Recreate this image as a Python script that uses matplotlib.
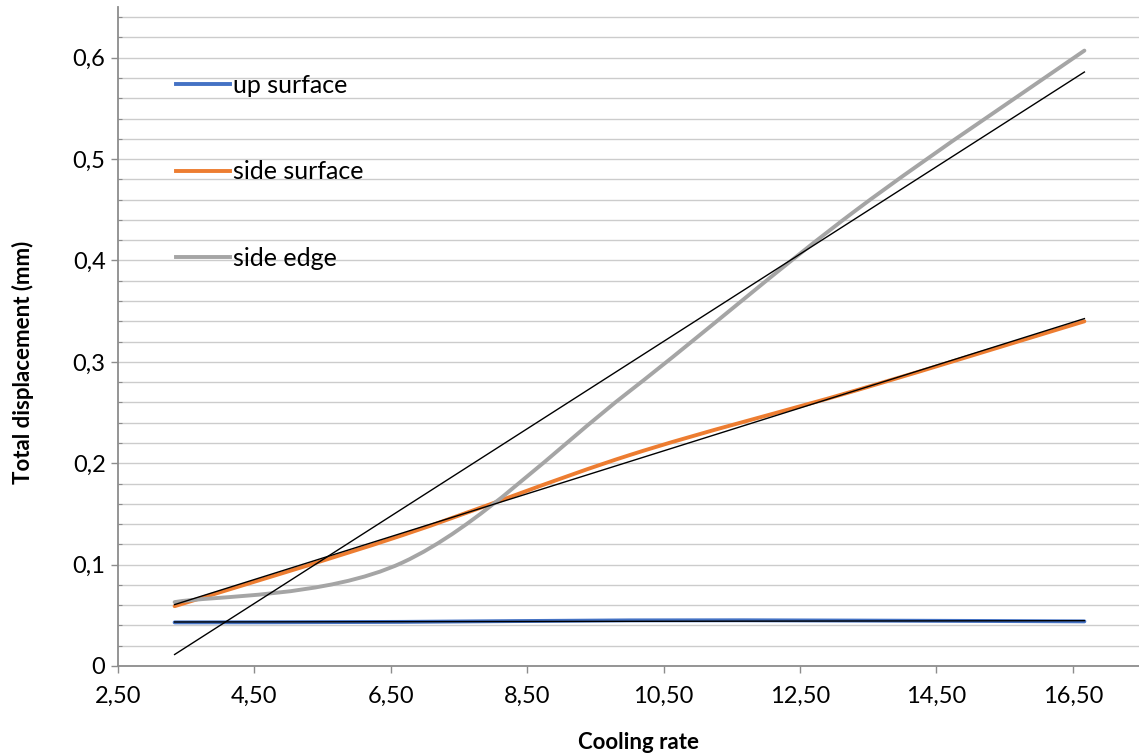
#!/usr/bin/env python
# coding=utf-8

import numpy as np
import matplotlib
matplotlib.use("Agg")
import matplotlib.pyplot as plt

from matplotlib.path import Path
from matplotlib.patches import PathPatch
from matplotlib.lines import Line2D
from matplotlib.ticker import MultipleLocator, FuncFormatter

default_font = "Lato"
default_dpi = 100

# data
cooling_rate = [3.33, 6.67, 10.00, 13.33, 16.67]
up_surface = [0.043, 0.0435, 0.045, 0.0448, 0.044]
side_surface = [0.059, 0.129, 0.208, 0.272, 0.340]
side_edge = [0.063, 0.102, 0.271, 0.450, 0.607]

series_names = ["up surface", "side surface", "side edge"]
series_colors = ["#4472C4", "#ED7D31", "#A5A5A5"]

x_ticks = [2.5, 4.5, 6.5, 8.5, 10.5, 12.5, 14.5, 16.5]


def smooth_path(x, y):
    """
    Excel-like smoothed line: cubic bezier through the points
    """
    pts = np.column_stack([x, y]).astype(float)
    n = len(pts)
    verts = [pts[0]]
    codes = [Path.MOVETO]
    for i in range(n - 1):
        p0 = pts[max(i - 1, 0)]
        p1 = pts[i]
        p2 = pts[i + 1]
        p3 = pts[min(i + 2, n - 1)]
        verts += [p1 + (p2 - p0) / 6, p2 - (p3 - p1) / 6, p2]
        codes += [Path.CURVE4] * 3
    return Path(verts, codes)


def comma(v, pos, digits):
    if digits == 1 and abs(v) < 1e-9:
        return "0"
    return f"{v:.{digits}f}".replace(".", ",")


plt.rcParams["font.family"] = [default_font, "DejaVu Sans"]

fig = plt.figure(figsize=(11.39, 7.56), dpi=default_dpi)
ax = fig.add_axes([118 / 1139, 90 / 756, 1021 / 1139, 659 / 756])

series = [up_surface, side_surface, side_edge]
handles = []
for vals, name, color in zip(series, series_names, series_colors):
    ax.add_patch(PathPatch(smooth_path(cooling_rate, vals),
                           facecolor="none",
                           edgecolor=color,
                           lw=2.8,
                           capstyle="round",
                           zorder=3))
    handles.append(Line2D([], [], color=color, lw=2.8))

# linear trend lines
xs = np.array([cooling_rate[0], cooling_rate[-1]])
for vals in series:
    k, b = np.polyfit(cooling_rate, vals, 1)
    ax.plot(xs, k * xs + b, color="black", lw=1.0, zorder=4)

ax.set_xlim(2.5, 2.5 + 1021 / 68.2)
ax.set_ylim(0, 0.65)
ax.set_xticks(x_ticks)
ax.yaxis.set_major_locator(MultipleLocator(0.1))
ax.yaxis.set_minor_locator(MultipleLocator(0.02))
ax.xaxis.set_major_formatter(FuncFormatter(lambda v, p: comma(v, p, 2)))
ax.yaxis.set_major_formatter(FuncFormatter(lambda v, p: comma(v, p, 1)))

ax.grid(True, axis="y", which="both", color="#cccccc", lw=1.0, zorder=0)
ax.set_axisbelow(True)

for side in ["top", "right"]:
    ax.spines[side].set_visible(False)
for side in ["left", "bottom"]:
    ax.spines[side].set_color("#8c8c8c")
    ax.spines[side].set_linewidth(1.3)

ax.tick_params(axis="both", which="major", direction="out", length=5,
               width=1.0, color="#8c8c8c", labelsize=17, pad=4)
ax.tick_params(axis="x", which="major", pad=9)
ax.tick_params(axis="y", which="minor", direction="in", length=3,
               width=0.8, color="#8c8c8c")

ax.set_xlabel("Cooling rate", fontsize=16, fontweight="bold")
ax.set_ylabel("Total displacement (mm)", fontsize=16, fontweight="bold")
ax.xaxis.set_label_coords(0.51, -0.1)
ax.yaxis.set_label_coords(-0.082, 0.461)

ax.legend(handles, series_names,
          loc="upper left",
          bbox_to_anchor=(0.057, 0.899),
          frameon=False,
          fontsize=18,
          borderpad=0,
          borderaxespad=0,
          labelspacing=2.55,
          handlelength=2.16,
          handletextpad=0.12)

fig.savefig("out.png", dpi=default_dpi)
plt.close(fig)
